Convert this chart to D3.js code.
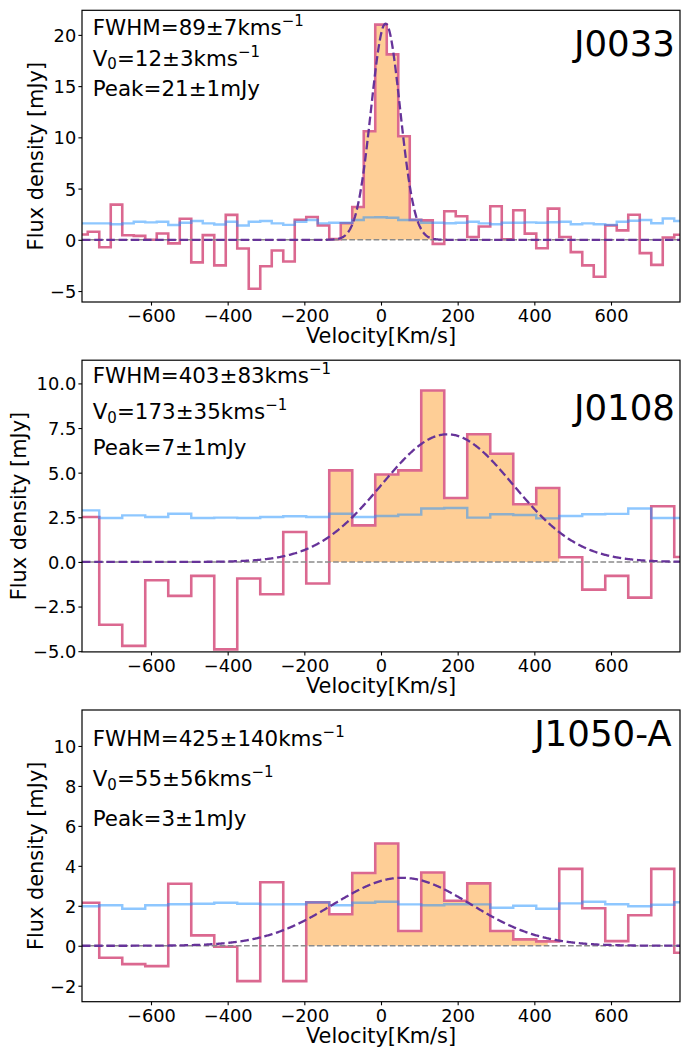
<!DOCTYPE html>
<html>
<head>
<meta charset="utf-8">
<script src="https://cdn.jsdelivr.net/npm/d3@7"></script>
<style>
  body { margin: 0; background: #fff; }
  svg { display: block; }
  text { font-family: "DejaVu Sans", sans-serif; fill: #000; }
</style>
</head>
<body>
<svg id="chart" width="687" height="1048"></svg>
<script>
// ---- spectra: flux density per velocity channel (mJy) ----
const names = ["J0033", "J0108", "J1050-A"];
const binWidth = [30, 60, 60];          // channel width, km/s
const firstBin = [-780, -765, -765];    // centre of the first channel, km/s

const flux1 = [0.52, 0.78, -0.72, 3.43, 0.45, 0.38, 0.0, 0.62, -0.35, 2.05,
               -2.2, 0.46, -2.5, 2.43, -0.85, -4.77, -2.58, -1.05, -2.12, 1.96,
               2.22, 1.40, 0.07, 1.62, 3.2, 10.6, 21.0, 18.1, 10.1, 1.95,
               1.9, -0.4, 2.78, 2.3, 0.27, 1.3, 3.27, 0.05, 2.88, 0.6,
               -0.82, 3.04, 0.28, -1.2, -2.5, -3.6, 1.4, 0.92, 2.45, -1.3,
               -2.45, 0.23, 0.49];
const flux2 = [2.52, -3.52, -4.7, -1.03, -1.9, -0.78, -4.9, -0.93, -1.81, 1.68,
               -1.21, 5.13, 2.05, 4.9, 5.13, 9.6, 3.58, 7.15, 6.06, 3.23,
               4.14, 0.26, -1.55, -0.78, -2.0, 3.12, 0.28];
const flux3 = [2.15, -0.6, -0.92, -1.02, 3.1, 0.52, -0.05, -1.77, 3.18, -1.77,
               2.17, 1.58, 3.64, 5.12, 0.74, 3.67, 2.25, 3.12, 0.74, 0.32,
               0.22, 3.85, 1.88, 0.23, 1.53, 3.85, -0.35];

// ---- channel noise (mJy) ----
const rms1 = [1.60, 1.60, 1.60, 1.52, 1.60, 1.76, 1.70, 1.76, 1.44, 1.67,
              1.83, 1.60, 1.50, 1.76, 1.40, 1.76, 1.83, 1.60, 1.46, 1.76,
              1.93, 1.60, 1.67, 1.67, 1.93, 2.19, 2.20, 2.15, 1.93, 1.93,
              1.67, 1.67, 1.62, 1.67, 1.76, 1.60, 1.52, 1.67, 1.67, 1.70,
              1.67, 1.72, 1.76, 1.52, 1.60, 1.52, 1.46, 1.76, 1.86, 1.93,
              1.62, 2.08, 1.83];
const rms2 = [2.89, 2.46, 2.61, 2.52, 2.70, 2.46, 2.48, 2.46, 2.52, 2.56,
              2.52, 2.70, 2.52, 2.57, 2.65, 2.99, 3.02, 2.48, 2.67, 2.63,
              2.44, 2.57, 2.67, 2.69, 2.99, 2.46, 2.46];
const rms3 = [1.98, 2.03, 1.85, 2.03, 2.08, 2.10, 2.15, 2.10, 2.07, 2.08,
              2.17, 2.03, 2.15, 2.20, 2.07, 2.03, 2.08, 2.07, 1.90, 2.00,
              1.85, 2.12, 2.20, 2.08, 1.98, 2.05, 2.18];

// ---- Gaussian fit parameters ----
const fwhm    = [89, 403, 425];
const fwhmErr = [7, 83, 140];
const v0      = [12, 173, 55];
const v0Err   = [3, 35, 56];
const peak    = [21.1, 7.15, 3.4];
const peakErr = [1, 1, 1];

// velocity window of the line emission (shaded), km/s
const lineRange = [[-105, 135], [-135, 465], [-195, 435]];

// ---- axes ----
const xDomain = [-780, 780];
const xTicks = [-600, -400, -200, 0, 200, 400, 600];
const yDomains = [[-6.07, 22.4], [-5.04, 11.3], [-2.8, 11.8]];
const yTicks1 = [-5, 0, 5, 10, 15, 20];
const yTicks2 = [-5, -2.5, 0, 2.5, 5, 7.5, 10];
const yTicks3 = [-2, 0, 2, 4, 6, 8, 10];
const yFormats = ["d", ".1f", "d"];
const textRows = [[20, 17, 14], [10, 8, 6], [10, 8, 6]];   // annotation rows, mJy
const nameAt = [[767, 17.9], [767, 7.95], [758, 10]];       // source name anchor (km/s, mJy)
const annotX = -752;
const yLabelX = [42.5, 25.5, 42.5];

const panels = [
  { flux: flux1, rms: rms1, yTicks: yTicks1 },
  { flux: flux2, rms: rms2, yTicks: yTicks2 },
  { flux: flux3, rms: rms3, yTicks: yTicks3 }
];

// ---- layout ----
const left = 82, plotW = 598, plotH = 291.7;
const tops = [10.3, 360.2, 710];

const C = {
  spec: "#DB6890",
  fill: "#FECE96",
  rms: "rgba(30,144,255,0.5)",
  fit: "#663399",
  zero: "#8a8a8a"
};

const svg = d3.select("#chart");
const FS_TICK = 17.8, FS_LABEL = 20.9, FS_ANN = 21.4, FS_NAME = 35.6;

panels.forEach((p, k) => {
  const top = tops[k];
  const g = svg.append("g").attr("transform", `translate(${left},${top})`);
  const x = d3.scaleLinear().domain(xDomain).range([0, plotW]);
  const y = d3.scaleLinear().domain(yDomains[k]).range([plotH, 0]);
  const w = binWidth[k];

  const clipId = "clip" + k;
  g.append("clipPath").attr("id", clipId)
    .append("rect").attr("width", plotW).attr("height", plotH);
  const body = g.append("g").attr("clip-path", `url(#${clipId})`);

  // channel edges -> step points
  const stepPts = vals => {
    const pts = vals.map((v, i) => ({ x: firstBin[k] + i * w - w / 2, v }));
    pts.push({ x: firstBin[k] + (vals.length - 1) * w + w / 2, v: vals[vals.length - 1] });
    return pts;
  };
  const stepLine = d3.line().curve(d3.curveStepAfter).x(d => x(d.x)).y(d => y(d.v));

  // shaded line window
  const [a, b] = lineRange[k];
  const fillPts = [];
  let lastV = 0;
  p.flux.forEach((v, i) => {
    const l = firstBin[k] + i * w - w / 2, r = l + w;
    if (r > a && l < b) { fillPts.push({ x: Math.max(l, a), v }); lastV = v; }
  });
  fillPts.push({ x: b, v: lastV });
  body.append("path")
    .attr("d", d3.area().curve(d3.curveStepAfter)
      .x(d => x(d.x)).y0(y(0)).y1(d => y(d.v))(fillPts))
    .attr("fill", C.fill);

  // spectrum
  body.append("path").attr("d", stepLine(stepPts(p.flux)))
    .attr("fill", "none").attr("stroke", C.spec).attr("stroke-width", 2.6);

  // noise
  body.append("path").attr("d", stepLine(stepPts(p.rms)))
    .attr("fill", "none").attr("stroke", C.rms).attr("stroke-width", 2.4);

  // zero level
  body.append("line")
    .attr("x1", 0).attr("x2", plotW).attr("y1", y(0)).attr("y2", y(0))
    .attr("stroke", C.zero).attr("stroke-width", 1.5).attr("stroke-dasharray", "5.7,2.4");

  // Gaussian fit
  const sigma = fwhm[k] / (2 * Math.sqrt(2 * Math.log(2)));
  const vs = d3.range(xDomain[0], xDomain[1] + 0.1, 2);
  body.append("path")
    .attr("d", d3.line().x(v => x(v))
      .y(v => y(peak[k] * Math.exp(-((v - v0[k]) ** 2) / (2 * sigma * sigma))))(vs))
    .attr("fill", "none").attr("stroke", C.fit).attr("stroke-width", 2.3)
    .attr("stroke-dasharray", "8.5,3.7");

  // frame
  g.append("rect").attr("width", plotW).attr("height", plotH)
    .attr("fill", "none").attr("stroke", "#000").attr("stroke-width", 1.2);

  // x axis
  const xa = g.append("g").attr("transform", `translate(0,${plotH})`)
    .call(d3.axisBottom(x).tickValues(xTicks).tickSize(3.6).tickPadding(3.6)
      .tickFormat(d3.format("d")));
  xa.select(".domain").remove();
  xa.selectAll("line").attr("stroke", "#000").attr("stroke-width", 1.1);
  xa.selectAll("text").attr("font-size", FS_TICK).attr("font-family", "DejaVu Sans").attr("fill", "#000");

  // y axis
  const ya = g.append("g")
    .call(d3.axisLeft(y).tickValues(p.yTicks).tickSize(3.6).tickPadding(2.2)
      .tickFormat(d3.format(yFormats[k])));
  ya.select(".domain").remove();
  ya.selectAll("line").attr("stroke", "#000").attr("stroke-width", 1.1);
  ya.selectAll("text").attr("font-size", FS_TICK).attr("font-family", "DejaVu Sans")
    .attr("fill", "#000").attr("dy", "0.36em");

  // axis titles
  g.append("text").attr("x", plotW / 2).attr("y", plotH + 41.3)
    .attr("text-anchor", "middle").attr("font-size", FS_LABEL)
    .text("Velocity[Km/s]");
  svg.append("text")
    .attr("transform", `translate(${yLabelX[k]},${top + plotH / 2}) rotate(-90)`)
    .attr("text-anchor", "middle").attr("font-size", FS_LABEL)
    .text("Flux density [mJy]");

  // fit annotations
  const ann = g.append("g").attr("font-size", FS_ANN);
  const t1 = ann.append("text").attr("x", x(annotX)).attr("y", y(textRows[k][0]));
  t1.append("tspan").text(`FWHM=${fwhm[k]}±${fwhmErr[k]}kms`);
  t1.append("tspan").attr("dy", -9).attr("font-size", FS_ANN * 0.7).text("−1");

  const t2 = ann.append("text").attr("x", x(annotX)).attr("y", y(textRows[k][1]));
  t2.append("tspan").text("V");
  t2.append("tspan").attr("dy", 3.6).attr("font-size", FS_ANN * 0.7).text("0");
  t2.append("tspan").attr("dy", -3.6).text(`=${v0[k]}±${v0Err[k]}kms`);
  t2.append("tspan").attr("dy", -9).attr("font-size", FS_ANN * 0.7).text("−1");

  ann.append("text").attr("x", x(annotX)).attr("y", y(textRows[k][2]))
    .text(`Peak=${d3.format(".0f")(peak[k])}±${peakErr[k]}mJy`);

  // source name
  g.append("text").attr("x", x(nameAt[k][0])).attr("y", y(nameAt[k][1]))
    .attr("text-anchor", "end").attr("font-size", FS_NAME).text(names[k]);
});
</script>
</body>
</html>
